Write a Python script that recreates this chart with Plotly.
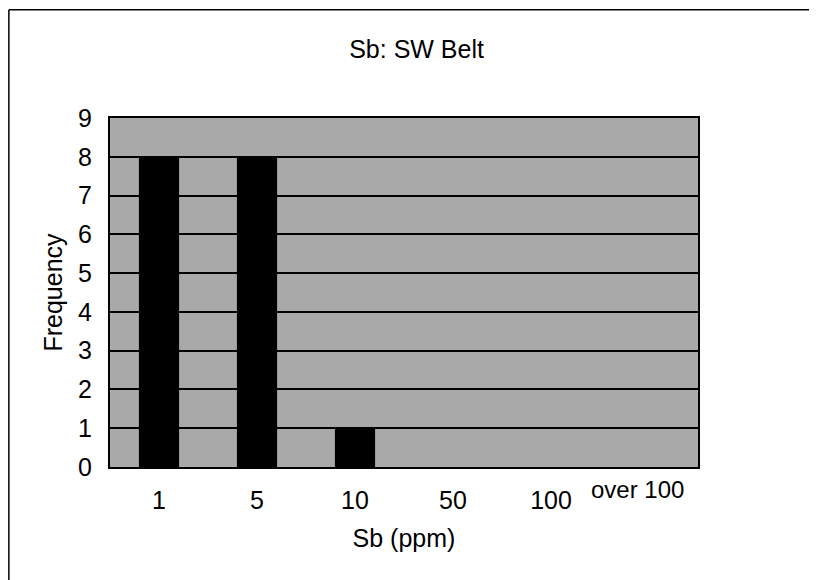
import plotly.graph_objects as go

# histogram bins and counts
bins = ["1", "5", "10", "50", "100", "over 100"]
counts = [8, 8, 1, 0, 0, 0]
y_ticks = list(range(0, 10))
x_ticktext = ["1", "5", "10", "50", "100", ""]  # last label drawn raised, as in the scan

FONT = "Liberation Sans, Arial, sans-serif"

fig = go.Figure()

fig.add_trace(
    go.Bar(
        x=bins,
        y=counts,
        marker=dict(color="black", line=dict(width=0)),
        width=0.41,
    )
)

# page has an 8px body margin, so the figure is sized to fit inside it
fig.update_layout(
    width=809,
    height=572,
    margin=dict(l=102, r=119, t=110, b=113),
    paper_bgcolor="white",
    plot_bgcolor="#a9a9a9",
    showlegend=False,
    font=dict(family=FONT, color="black"),
    title=dict(
        text="Sb: SW Belt",
        xref="container",
        x=0.505,
        xanchor="center",
        y=0.928,
        yanchor="middle",
        font=dict(size=25),
    ),
)

fig.update_xaxes(
    type="category",
    tickvals=bins,
    ticktext=x_ticktext,
    title=dict(text="Sb (ppm)", font=dict(size=25), standoff=16),
    tickfont=dict(size=25),
    ticklabelstandoff=10,
    showgrid=False,
    showline=True,
    linecolor="black",
    linewidth=2,
    mirror=True,
    ticks="",
)

fig.update_yaxes(
    range=[0, 9],
    tickvals=y_ticks,
    title=dict(text="Frequency", font=dict(size=25), standoff=8),
    tickfont=dict(size=25),
    ticklabelstandoff=11,
    showgrid=True,
    gridcolor="black",
    gridwidth=2,
    zeroline=False,
    showline=True,
    linecolor="black",
    linewidth=2,
    mirror=True,
    ticks="",
)

fig.add_annotation(
    x=bins[-1], y=0, xref="x", yref="paper",
    text=bins[-1], showarrow=False,
    xshift=-12, yshift=-22, yanchor="middle",
    font=dict(size=24),
)

# scanned page frame (top and left edges)
fig.add_shape(type="line", xref="paper", yref="paper",
              x0=-0.172, x1=1.21, y0=1.31, y1=1.31,
              line=dict(color="black", width=1.5))
fig.add_shape(type="line", xref="paper", yref="paper",
              x0=-0.172, x1=-0.172, y0=1.31, y1=-0.33,
              line=dict(color="black", width=1.5))

fig.write_html("out.html")
